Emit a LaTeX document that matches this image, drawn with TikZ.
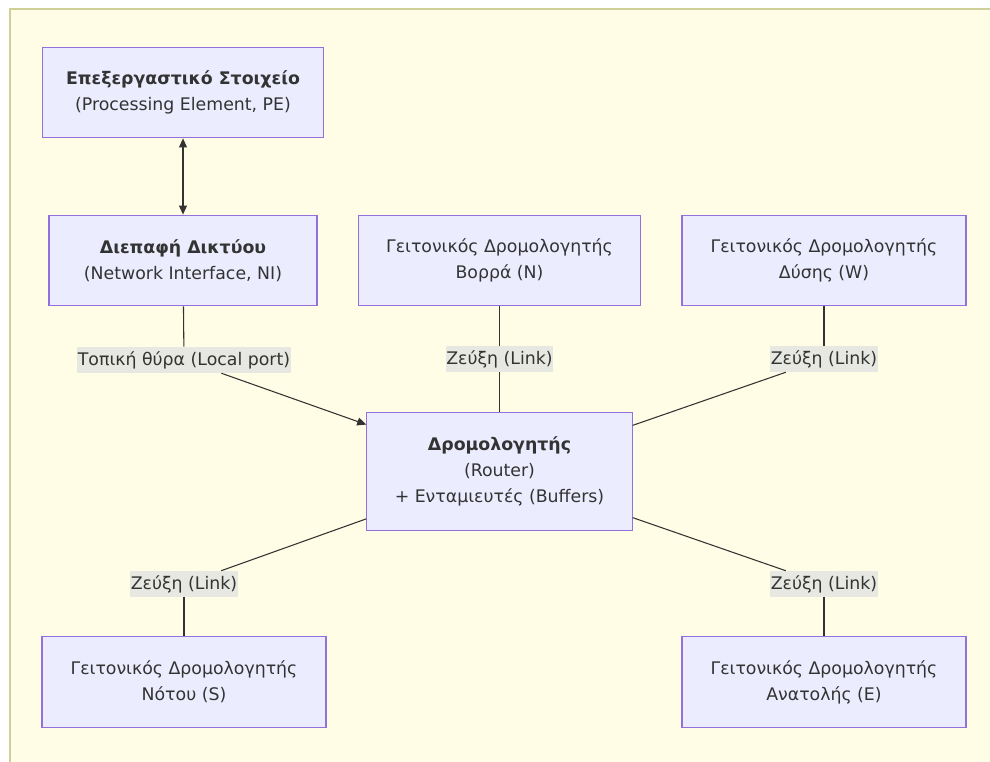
\documentclass[tikz,border=0pt]{standalone}
\usepackage{fontspec}
\setmainfont{DejaVu Sans}
\usetikzlibrary{arrows.meta}
\definecolor{ink}{HTML}{333333}
\definecolor{canvas}{HTML}{FFFDE6}
\definecolor{frameline}{HTML}{CFCF99}
\definecolor{boxfill}{HTML}{ECECFF}
\definecolor{boxline}{HTML}{9370DB}
\definecolor{labelbg}{HTML}{E8E8E2}
\tikzset{
  >={Triangle[length=2.4mm,width=2.1mm]},
  block/.style={draw=boxline,fill=boxfill,line width=.8pt,text=ink,align=center,
    minimum height=68pt,inner sep=0pt,font=\fontsize{13}{19.5}\selectfont},
  link/.style={fill=labelbg,text=ink,inner xsep=.5pt,inner ysep=0pt,
    minimum height=19.5pt,font=\fontsize{13}{19.5}\selectfont},
  edge/.style={draw=ink,line width=.8pt},
}

\begin{document}
\begin{tikzpicture}[x=.75pt,y=-.75pt]
  \clip (0,0) rectangle (990,762);
  \fill[white] (0,0) rectangle (990,762);
  \draw[frameline,fill=canvas,line width=.8pt] (10,9) rectangle (1000,775);
  % boxes
  \node[block,minimum width=211pt] (pe) at (183,92.5)
    {\textbf{Επεξεργαστικό Στοιχείο}\\(Processing Element, PE)};
  \node[block,minimum width=201pt] (ni) at (183,260.5)
    {\textbf{Διεπαφή Δικτύου}\\(Network Interface, NI)};
  \node[block,minimum width=212pt] (north) at (499.5,260.5)
    {Γειτονικός Δρομολογητής\\Βορρά (N)};
  \node[block,minimum width=213pt] (west) at (824,260.5)
    {Γειτονικός Δρομολογητής\\Δύσης (W)};
  \node[block,minimum width=199pt,minimum height=89pt] (router) at (499.5,471.5)
    {\textbf{Δρομολογητής}\\(Router)\\+ Ενταμιευτές (Buffers)};
  \node[block,minimum width=213pt] (south) at (184,682)
    {Γειτονικός Δρομολογητής\\Νότου (S)};
  \node[block,minimum width=213pt] (east) at (824,682)
    {Γειτονικός Δρομολογητής\\Ανατολής (E)};
  % link labels
  \node[link] (lp) at (184,360) {Τοπική θύρα (Local port)};
  \node[link] (ln) at (499.5,359) {Ζεύξη (Link)};
  \node[link] (lw) at (824,359) {Ζεύξη (Link)};
  \node[link] (ls) at (184,584) {Ζεύξη (Link)};
  \node[link] (le) at (824,584) {Ζεύξη (Link)};
  % connectors
  \draw[edge,<->] (pe) -- (ni);
  \draw[edge] (ni) -- (lp);
  \draw[edge,->] (lp) -- (router);
  \draw[edge] (north) -- (ln);
  \draw[edge] (ln) -- (router);
  \draw[edge] (west) -- (lw);
  \draw[edge] (lw) -- (router);
  \draw[edge] (router) -- (ls);
  \draw[edge] (ls) -- (south);
  \draw[edge] (router) -- (le);
  \draw[edge] (le) -- (east);
\end{tikzpicture}
\end{document}
